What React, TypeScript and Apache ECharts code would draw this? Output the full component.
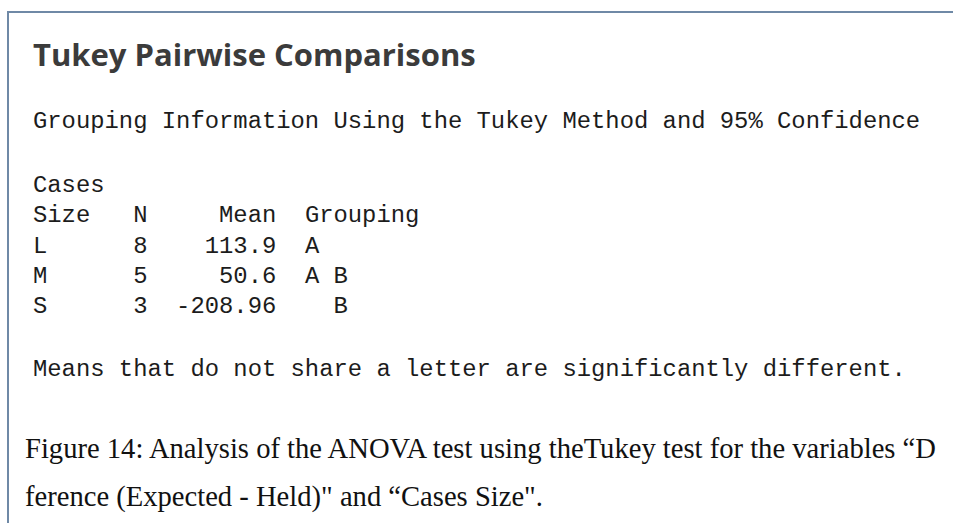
import React, { useEffect, useRef } from "react";
import * as echarts from "echarts";

const titleText = "Tukey Pairwise Comparisons";
const subtitleText = "Grouping Information Using the Tukey Method and 95% Confidence";
const headerLine1 = ["Cases"];
const headerCols = ["Size", "N", "Mean", "Grouping"];
const sizes = ["L", "M", "S"];
const counts = [8, 5, 3];
const means = [113.9, 50.6, -208.96];
const groupA = [true, true, false];
const groupB = [false, true, true];
const noteText = "Means that do not share a letter are significantly different.";
const captionLines = [
  "Figure 14: Analysis of the ANOVA test using theTukey test for the variables \u201cD",
  "ference (Expected - Held)\" and \u201cCases Size\".",
];

const MONO = "'Liberation Mono', 'DejaVu Sans Mono', monospace";
const FS = 23.85;
const CW = FS * 0.6;
const X0 = 33;
const TXT = "#1c1c1c";

export default function App() {
  const ref = useRef<HTMLDivElement>(null);
  useEffect(() => {
    if (!ref.current) return;
    const chart = echarts.init(ref.current, null, { renderer: "svg" });
    const mono = (text: string, col: number, y: number, align = "left") => ({
      type: "text",
      x: X0 + col * CW,
      y,
      style: {
        text,
        font: `${FS}px ${MONO}`,
        fill: TXT,
        textAlign: align,
        textVerticalAlign: "middle",
      },
    });
    const rowY = [246, 276, 306];
    const els: any[] = [
      { type: "line", shape: { x1: 8, y1: 12, x2: 953, y2: 12 }, style: { stroke: "#6f89a6", lineWidth: 2 } },
      { type: "line", shape: { x1: 8, y1: 11, x2: 8, y2: 523 }, style: { stroke: "#6f89a6", lineWidth: 2 } },
      {
        type: "text",
        x: X0,
        y: 54,
        style: {
          text: titleText,
          font: "bold 31px 'Open Sans', 'Noto Sans', sans-serif",
          fill: "#3b3b3b",
          textVerticalAlign: "middle",
        },
      },
      mono(subtitleText, 0, 121),
      mono(headerLine1[0], 0, 185),
      mono(headerCols[0], 0, 215),
      mono(headerCols[1], 7, 215),
      mono(headerCols[2], 17, 215, "right"),
      mono(headerCols[3], 19, 215),
      mono(noteText, 0, 369),
    ];
    sizes.forEach((s, i) => {
      els.push(mono(s, 0, rowY[i]));
      els.push(mono(String(counts[i]), 7, rowY[i]));
      els.push(mono(String(means[i]), 17, rowY[i], "right"));
      if (groupA[i]) els.push(mono("A", 19, rowY[i]));
      if (groupB[i]) els.push(mono("B", 21, rowY[i]));
    });
    captionLines.forEach((t, i) => {
      els.push({
        type: "text",
        x: 25,
        y: 448 + i * 48,
        style: {
          text: t,
          font: "28.6px 'Liberation Serif', 'DejaVu Serif', serif",
          fill: "#111",
          textVerticalAlign: "middle",
        },
      });
    });
    chart.setOption({
      animation: false,
      backgroundColor: "#ffffff",
      graphic: { elements: els },
    });
    return () => chart.dispose();
  }, []);
  return (
    <div
      ref={ref}
      style={{ position: "absolute", left: 0, top: 0, width: 953, height: 523, background: "#fff" }}
    />
  );
}
